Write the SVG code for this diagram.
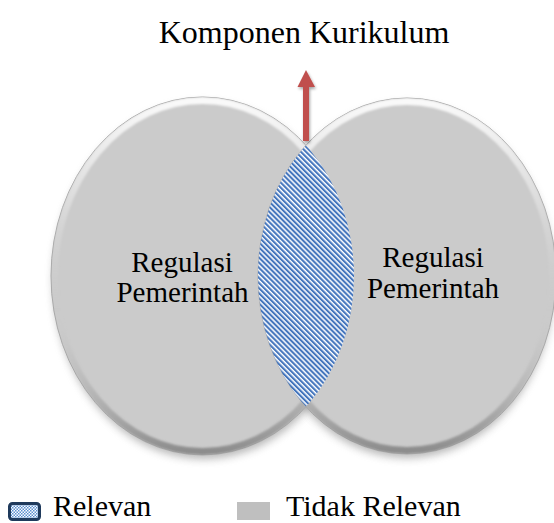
<svg xmlns="http://www.w3.org/2000/svg" width="554" height="523" viewBox="0 0 554 523">
  <style>
    text { font-family: 'Liberation Serif', 'DejaVu Serif', serif; fill: #000000; }
    .lbl { font-size: 29px; }
    .ttl { font-size: 32px; }
    .leg { font-size: 30px; }
    .circ { fill: #cbcbcb; stroke: #a9a9a9; stroke-width: 1; }
    .rim { fill: none; stroke: url(#rimGrad); stroke-width: 7; filter: url(#soft); }
    .shadow { fill: #7a7a7a; opacity: 0.55; filter: url(#blur); }
  </style>
  <defs>
    <filter id="blur" x="-20%" y="-20%" width="140%" height="140%">
      <feGaussianBlur stdDeviation="4"/>
    </filter>
    <filter id="soft" x="-10%" y="-10%" width="120%" height="120%">
      <feGaussianBlur stdDeviation="1.2"/>
    </filter>
    <filter id="arrowShadow" x="-50%" y="-20%" width="200%" height="140%">
      <feGaussianBlur in="SourceAlpha" stdDeviation="1.5"/>
      <feOffset dx="1" dy="2" result="b"/>
      <feComponentTransfer><feFuncA type="linear" slope="0.35"/></feComponentTransfer>
      <feMerge><feMergeNode/><feMergeNode in="SourceGraphic"/></feMerge>
    </filter>
    <linearGradient id="rimGrad" x1="0" y1="0" x2="0" y2="1">
      <stop offset="0" stop-color="#ffffff" stop-opacity="0.9"/>
      <stop offset="0.35" stop-color="#ffffff" stop-opacity="0.2"/>
      <stop offset="0.6" stop-color="#cbcbcb" stop-opacity="0"/>
      <stop offset="1" stop-color="#7d7d7d" stop-opacity="0.8"/>
    </linearGradient>
    <pattern id="stripes" width="3.6" height="3.6" patternUnits="userSpaceOnUse" patternTransform="rotate(-45)">
      <rect width="3.6" height="3.6" fill="#ffffff"/>
      <rect width="2.1" height="3.6" fill="#4576bd"/>
    </pattern>
    <pattern id="checks" width="3" height="3" patternUnits="userSpaceOnUse">
      <rect width="3" height="3" fill="#ffffff"/>
      <rect width="1.5" height="1.5" fill="#5b8fd0"/>
      <rect x="1.5" y="1.5" width="1.5" height="1.5" fill="#5b8fd0"/>
    </pattern>
    <clipPath id="clipLeft">
      <ellipse cx="202.5" cy="276" rx="151.5" ry="179"/>
    </clipPath>
    <clipPath id="clipLeftIn">
      <ellipse cx="202.5" cy="276" rx="151.5" ry="179"/>
    </clipPath>
    <clipPath id="clipRightIn">
      <ellipse cx="407" cy="276" rx="149" ry="178"/>
    </clipPath>
  </defs>

  <rect width="554" height="523" fill="#ffffff"/>

  <g id="title">
    <text class="ttl" x="304" y="43" text-anchor="middle">Komponen Kurikulum</text>
  </g>

  <g id="shadows">
    <ellipse class="shadow" cx="203.5" cy="281" rx="150" ry="178"/>
    <ellipse class="shadow" cx="407" cy="281" rx="147" ry="177"/>
  </g>

  <g id="circle-left">
    <ellipse class="circ" cx="202.5" cy="276" rx="151.5" ry="179"/>
    <ellipse class="rim" cx="202.5" cy="276" rx="148" ry="175.5" clip-path="url(#clipLeftIn)"/>
    <text class="lbl" x="182" y="272" text-anchor="middle">Regulasi</text>
    <text class="lbl" x="182.5" y="302" text-anchor="middle">Pemerintah</text>
  </g>

  <g id="circle-right">
    <ellipse class="circ" cx="407" cy="276" rx="149" ry="178"/>
    <ellipse class="rim" cx="407" cy="276" rx="145.5" ry="174.5" clip-path="url(#clipRightIn)"/>
    <text class="lbl" x="433" y="267" text-anchor="middle">Regulasi</text>
    <text class="lbl" x="433" y="298" text-anchor="middle">Pemerintah</text>
  </g>

  <g id="lens">
    <ellipse cx="407" cy="276" rx="149" ry="178" fill="url(#stripes)" clip-path="url(#clipLeft)"/>
  </g>

  <g id="connectors">
    <g filter="url(#arrowShadow)">
      <rect x="303" y="85" width="6" height="56" fill="#c0504d"/>
      <polygon points="297.5,87 315,87 306,70" fill="#c0504d"/>
    </g>
  </g>

  <g id="legend">
    <rect x="9.5" y="503.5" width="30" height="16" rx="3" ry="3" fill="url(#checks)" stroke="#1f3a5c" stroke-width="3"/>
    <text class="leg" x="53" y="516">Relevan</text>
    <rect x="237" y="502" width="33" height="18" fill="#bfbfbf"/>
    <text class="leg" x="286" y="516">Tidak Relevan</text>
  </g>
</svg>
